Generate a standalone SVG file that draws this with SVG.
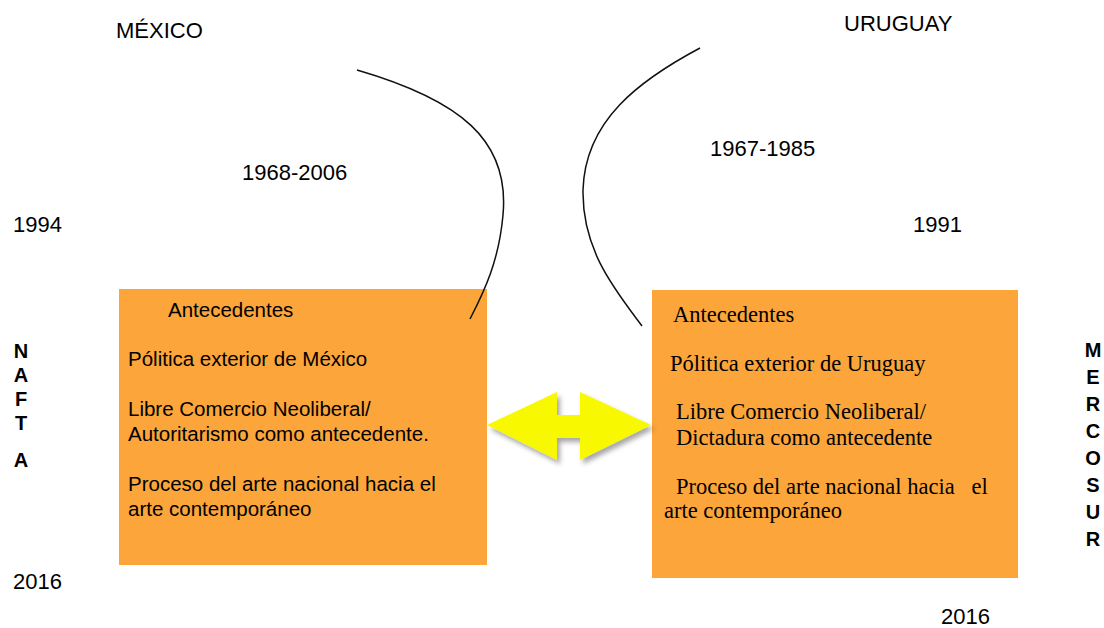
<svg xmlns="http://www.w3.org/2000/svg" width="1104" height="628" viewBox="0 0 1104 628">
<defs>
<style>
.sans{font-family:"Liberation Sans",Arial,sans-serif;fill:#000}
.serif{font-family:"Liberation Serif","Times New Roman",serif;fill:#000;white-space:pre}
.lbl{font-size:22px}
.bt{font-size:20.5px}
.st{font-size:22.5px}
.v{font-size:20px;font-weight:bold;text-anchor:middle}
.box{fill:#FBA53A}
.curve{fill:none;stroke:#111;stroke-width:1.5}
</style>
<filter id="sh" x="-20%" y="-20%" width="140%" height="140%">
<feDropShadow dx="3" dy="4" stdDeviation="2.5" flood-color="#000" flood-opacity="0.35"/>
</filter>
</defs>
<rect width="1104" height="628" fill="#fff"/>

<g id="labels">
<text class="sans lbl" x="116" y="38">MÉXICO</text>
<text class="sans lbl" x="844" y="31">URUGUAY</text>
<text class="sans lbl" x="242" y="180">1968-2006</text>
<text class="sans lbl" x="710" y="156">1967-1985</text>
<text class="sans lbl" x="13" y="232">1994</text>
<text class="sans lbl" x="913" y="232">1991</text>
<text class="sans lbl" x="13" y="589">2016</text>
<text class="sans lbl" x="941" y="624">2016</text>
</g>

<g id="nafta">
<text class="sans v" x="21" y="358">N</text>
<text class="sans v" x="21" y="382">A</text>
<text class="sans v" x="21" y="406">F</text>
<text class="sans v" x="21" y="430">T</text>
<text class="sans v" x="21" y="467">A</text>
</g>

<g id="mercosur">
<text class="sans v" x="1093" y="357">M</text>
<text class="sans v" x="1093" y="384">E</text>
<text class="sans v" x="1093" y="411">R</text>
<text class="sans v" x="1093" y="438">C</text>
<text class="sans v" x="1093" y="465">O</text>
<text class="sans v" x="1093" y="492">S</text>
<text class="sans v" x="1093" y="519">U</text>
<text class="sans v" x="1093" y="546">R</text>
</g>

<g id="mexico-box">
<rect class="box" x="119" y="289" width="368" height="276"/>
<text class="sans bt" x="168" y="317">Antecedentes</text>
<text class="sans bt" x="128" y="366">Pólitica exterior de México</text>
<text class="sans bt" x="128" y="416">Libre Comercio Neoliberal/</text>
<text class="sans bt" x="128" y="441">Autoritarismo como antecedente.</text>
<text class="sans bt" x="128" y="491">Proceso del arte nacional hacia el</text>
<text class="sans bt" x="128" y="516">arte contemporáneo</text>
</g>

<g id="uruguay-box">
<rect class="box" x="652" y="290" width="366" height="288"/>
<text class="serif st" x="673" y="322">Antecedentes</text>
<text class="serif st" x="670" y="371">Pólitica exterior de Uruguay</text>
<text class="serif st" x="676" y="419">Libre Comercio Neoliberal/</text>
<text class="serif st" x="676" y="445">Dictadura como antecedente</text>
<text class="serif st" x="676" y="494">Proceso del arte nacional hacia   el</text>
<text class="serif st" x="664" y="518">arte contemporáneo</text>
</g>

<g id="connectors">
<path class="curve" d="M357,70 C460,100 510,140 503,215 C499,260 485,290 470,319"/>
<path class="curve" d="M700,48 C640,80 585,120 583,190 C582,250 615,290 642,326"/>
<polygon filter="url(#sh)" fill="#F8F800" points="487,425 557,392 557,415 580,415 580,392 651,425 580,460 580,438 557,438 557,460"/>
</g>
</svg>
